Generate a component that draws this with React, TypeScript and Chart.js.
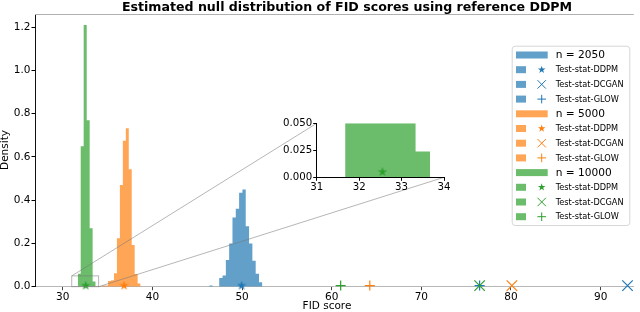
import React, { useEffect, useRef } from "react";
import { Chart, registerables } from "chart.js";
Chart.register(...registerables);

// ---------------- data ----------------
const sampleSizes = [2050, 5000, 10000];
const modelNames = ["DDPM", "DCGAN", "GLOW"];

// histogram bin edges / densities
const edges2050 = [46.34, 46.71, 47.08, 47.45, 47.82, 48.19, 48.56, 48.93, 49.3, 49.67, 50.04, 50.41, 50.78, 51.15, 51.52, 51.89, 52.26];
const density2050 = [0.006, 0, 0, 0.04, 0.052, 0.124, 0.2, 0.32, 0.36, 0.435, 0.45, 0.28, 0.2, 0.12, 0.06, 0.02];

const edges5000 = [34.39, 34.72, 35.05, 35.38, 35.71, 36.04, 36.37, 36.7, 37.03, 37.36, 37.69, 38.02, 38.35, 38.68];
const density5000 = [0.005, 0.005, 0.026, 0.03, 0.062, 0.224, 0.47, 0.675, 0.733, 0.543, 0.193, 0.059, 0.015];

const edges10000 = [31.67, 32.0, 32.33, 32.67, 33.0, 33.33, 33.67];
const density10000 = [0.06, 0.65, 1.21, 0.77, 0.27, 0.024];

// test statistics: DDPM, DCGAN, GLOW
const testStat2050 = [49.95, 93.0, 76.5];
const testStat5000 = [36.84, 80.1, 64.25];
const testStat10000 = [32.55, 76.5, 61.0];
const testStatDensity = 0.005;

const xTicks = [30, 40, 50, 60, 70, 80, 90];
const yTicks = [0, 0.2, 0.4, 0.6, 0.8, 1.0, 1.2];
const xLimits = [26.9, 93.7];
const yLimits = [0, 1.261];

const insetXLimits = [31, 34];
const insetYLimits = [0, 0.05];
const insetXTicks = [31, 32, 33, 34];
const insetYTicks = [0, 0.025, 0.05];

// ---------------- style ----------------
const FONT = '"DejaVu Sans", "Liberation Sans", sans-serif';
const colors = ["#1f77b4", "#ff7f0e", "#2ca02c"];
const fills = ["rgba(31,119,180,0.7)", "rgba(255,127,14,0.7)", "rgba(44,160,44,0.7)"];

// inset axes area in page pixels
const INSET = { left: 316.7, top: 123.3, right: 444, bottom: 177.3 };
const INSET_CANVAS = { left: 270, top: 110, width: 185, height: 90 };

function starPath(ctx: CanvasRenderingContext2D, cx: number, cy: number, r: number) {
  ctx.beginPath();
  for (let i = 0; i < 10; i++) {
    const rad = i % 2 === 0 ? r : r * 0.382;
    const a = -Math.PI / 2 + (i * Math.PI) / 5;
    const px = cx + rad * Math.cos(a);
    const py = cy + rad * Math.sin(a);
    if (i === 0) ctx.moveTo(px, py);
    else ctx.lineTo(px, py);
  }
  ctx.closePath();
}

function makeStar(color: string, size: number) {
  const c = document.createElement("canvas");
  c.width = size;
  c.height = size;
  const ctx = c.getContext("2d")!;
  starPath(ctx, size / 2, size / 2, size / 2);
  ctx.fillStyle = color;
  ctx.fill();
  return c;
}

function histPoints(edges: number[], dens: number[]) {
  return edges.map((e, i) => ({ x: e, y: dens[Math.min(i, dens.length - 1)] }));
}

const groups = [
  { n: sampleSizes[0], edges: edges2050, dens: density2050, stats: testStat2050 },
  { n: sampleSizes[1], edges: edges5000, dens: density5000, stats: testStat5000 },
  { n: sampleSizes[2], edges: edges10000, dens: density10000, stats: testStat10000 },
];

export default function App() {
  const mainRef = useRef<HTMLCanvasElement>(null);
  const insetRef = useRef<HTMLCanvasElement>(null);

  useEffect(() => {
    const stars = colors.map((c) => makeStar(c, 10));

    const histDataset = (k: number) => ({
      type: "line" as const,
      data: histPoints(groups[k].edges, groups[k].dens),
      stepped: true,
      fill: "origin",
      backgroundColor: fills[k],
      borderColor: "rgba(0,0,0,0)",
      borderWidth: 0,
      pointRadius: 0,
      tension: 0,
      order: 10 - k,
    });
    const markerDataset = (k: number, xs: number[], styles: any[], radii: number[]) => ({
      type: "line" as const,
      data: xs.map((x) => ({ x, y: testStatDensity })),
      showLine: false,
      pointStyle: styles,
      pointRadius: radii,
      pointBorderColor: colors[k],
      pointBackgroundColor: colors[k],
      pointBorderWidth: 1.2,
      clip: false,
      order: 3 - k,
    });

    const decor = {
      id: "decor",
      afterDatasetsDraw(chart: any) {
        const { ctx } = chart;
        const x = chart.scales.x;
        const y = chart.scales.y;
        const x0 = x.getPixelForValue(insetXLimits[0]);
        const x1 = x.getPixelForValue(insetXLimits[1]);
        const y0 = y.getPixelForValue(insetYLimits[0]);
        const y1 = y.getPixelForValue(insetYLimits[1]);
        ctx.save();
        ctx.strokeStyle = "rgba(120,120,120,0.6)";
        ctx.lineWidth = 0.9;
        ctx.strokeRect(x0, y1, x1 - x0, y0 - y1);
        ctx.beginPath();
        ctx.moveTo(x0, y1);
        ctx.lineTo(INSET.left, INSET.top);
        ctx.moveTo(x1, y0);
        ctx.lineTo(INSET.right, INSET.bottom);
        ctx.stroke();
        ctx.restore();
      },
      afterDraw(chart: any) {
        const { ctx, chartArea } = chart;
        ctx.save();
        // top spine
        ctx.strokeStyle = "#b0b0b0";
        ctx.lineWidth = 1;
        ctx.beginPath();
        ctx.moveTo(chartArea.left, chartArea.top + 0.5);
        ctx.lineTo(chartArea.right, chartArea.top + 0.5);
        ctx.stroke();

        // title
        ctx.fillStyle = "#000";
        ctx.font = `bold 12.6px ${FONT}`;
        ctx.textAlign = "center";
        ctx.textBaseline = "alphabetic";
        ctx.fillText("Estimated null distribution of FID scores using reference DDPM", 347, 10.5);

        // axis titles
        ctx.font = `10.5px ${FONT}`;
        ctx.textBaseline = "top";
        ctx.fillText("FID score", 327, 301);
        ctx.save();
        ctx.translate(5, 150);
        ctx.rotate(-Math.PI / 2);
        ctx.textBaseline = "middle";
        ctx.fillText("Density", 0, 0);
        ctx.restore();

        // legend
        const L = { left: 511.7, top: 45.7, w: 117.6, h: 179.3 };
        ctx.beginPath();
        (ctx as any).roundRect(L.left + 0.5, L.top + 0.5, L.w, L.h, 3);
        ctx.fillStyle = "rgba(255,255,255,0.8)";
        ctx.fill();
        ctx.strokeStyle = "#d6d6d6";
        ctx.lineWidth = 1;
        ctx.stroke();

        const rowH = 14.7;
        let row = 0;
        ctx.textAlign = "left";
        ctx.textBaseline = "middle";
        groups.forEach((g, k) => {
          const yh = 55 + row * rowH;
          ctx.fillStyle = fills[k];
          ctx.fillRect(516, yh - 3.5, 31.7, 7);
          ctx.fillStyle = "#000";
          ctx.font = `10.6px ${FONT}`;
          ctx.fillText(`n = ${g.n}`, 555.7, yh + 0.5);
          row++;
          modelNames.forEach((m, j) => {
            const yr = 55 + row * rowH;
            ctx.fillStyle = fills[k];
            ctx.fillRect(516, yr - 3.5, 10, 7);
            const mx = 541.7;
            ctx.strokeStyle = colors[k];
            ctx.fillStyle = colors[k];
            ctx.lineWidth = 1;
            if (j === 0) {
              starPath(ctx, mx, yr, 4);
              ctx.fill();
            } else if (j === 1) {
              ctx.beginPath();
              ctx.moveTo(mx - 4.2, yr - 4.2);
              ctx.lineTo(mx + 4.2, yr + 4.2);
              ctx.moveTo(mx - 4.2, yr + 4.2);
              ctx.lineTo(mx + 4.2, yr - 4.2);
              ctx.stroke();
            } else {
              ctx.beginPath();
              ctx.moveTo(mx - 4.3, yr);
              ctx.lineTo(mx + 4.3, yr);
              ctx.moveTo(mx, yr - 4.3);
              ctx.lineTo(mx, yr + 4.3);
              ctx.stroke();
            }
            ctx.fillStyle = "#000";
            ctx.font = `8.2px ${FONT}`;
            ctx.fillText(`Test-stat-${m}`, 555.7, yr + 0.5);
            row++;
          });
        });
        ctx.restore();
      },
    };

    const datasets: any[] = [];
    groups.forEach((g, k) => {
      datasets.push(histDataset(k));
      datasets.push(markerDataset(k, g.stats, [stars[k], "crossRot", "cross"], [5, 7.4, 5]));
    });

    const main = new Chart(mainRef.current!, {
      type: "line",
      data: { datasets },
      options: {
        responsive: false,
        devicePixelRatio: 1,
        animation: false,
        events: [],
        layout: { padding: { top: 14, right: 0, left: 0, bottom: 0 } },
        plugins: { legend: { display: false }, tooltip: { enabled: false }, title: { display: false } },
        scales: {
          x: {
            type: "linear",
            min: xLimits[0],
            max: xLimits[1],
            afterBuildTicks: (s: any) => {
              s.ticks = xTicks.map((v) => ({ value: v }));
            },
            afterFit: (s: any) => {
              s.height = 312 - 286.7;
            },
            ticks: {
              color: "#000",
              font: { family: FONT, size: 10.5 },
              padding: 1,
              maxRotation: 0,
              autoSkip: false,
              callback: (v: any) => String(v),
            },
            grid: { display: true, drawOnChartArea: false, drawTicks: true, tickLength: 3.5, color: "#444" },
            border: { display: true, color: "#b8b8b8", width: 1 },
          },
          y: {
            type: "linear",
            min: yLimits[0],
            max: yLimits[1],
            afterBuildTicks: (s: any) => {
              s.ticks = yTicks.map((v) => ({ value: v }));
            },
            afterFit: (s: any) => {
              s.width = 35;
            },
            ticks: {
              color: "#000",
              font: { family: FONT, size: 10.5 },
              padding: 1,
              autoSkip: false,
              callback: (v: any) => Number(v).toFixed(1),
            },
            grid: { display: true, drawOnChartArea: false, drawTicks: true, tickLength: 3.5, color: "#000" },
            border: { display: true, color: "#111", width: 1 },
          },
        },
      } as any,
      plugins: [decor],
    });

    const inset = new Chart(insetRef.current!, {
      type: "line",
      data: {
        datasets: [
          histDataset(2),
          markerDataset(2, [testStat10000[0]], [makeStar(colors[2], 10)], [5]),
        ],
      },
      options: {
        responsive: false,
        devicePixelRatio: 1,
        animation: false,
        events: [],
        layout: {
          padding: {
            top: INSET.top - INSET_CANVAS.top,
            right: INSET_CANVAS.left + INSET_CANVAS.width - INSET.right,
            left: 0,
            bottom: 0,
          },
        },
        plugins: { legend: { display: false }, tooltip: { enabled: false } },
        scales: {
          x: {
            type: "linear",
            min: insetXLimits[0],
            max: insetXLimits[1],
            afterBuildTicks: (s: any) => {
              s.ticks = insetXTicks.map((v) => ({ value: v }));
            },
            afterFit: (s: any) => {
              s.height = INSET_CANVAS.top + INSET_CANVAS.height - INSET.bottom;
            },
            ticks: {
              color: "#000",
              font: { family: FONT, size: 10.2 },
              padding: 0,
              maxRotation: 0,
              autoSkip: false,
              callback: (v: any) => String(v),
            },
            grid: { display: true, drawOnChartArea: false, drawTicks: true, tickLength: 3.5, color: "#000" },
            border: { display: true, color: "#000", width: 1 },
          },
          y: {
            type: "linear",
            min: insetYLimits[0],
            max: insetYLimits[1],
            afterBuildTicks: (s: any) => {
              s.ticks = insetYTicks.map((v) => ({ value: v }));
            },
            afterFit: (s: any) => {
              s.width = INSET.left - INSET_CANVAS.left;
            },
            ticks: {
              color: "#000",
              font: { family: FONT, size: 10.2 },
              padding: 1,
              autoSkip: false,
              callback: (v: any) => Number(v).toFixed(3),
            },
            grid: { display: true, drawOnChartArea: false, drawTicks: true, tickLength: 3.5, color: "#000" },
            border: { display: true, color: "#000", width: 1 },
          },
        },
      } as any,
    });

    return () => {
      main.destroy();
      inset.destroy();
    };
  }, []);

  return (
    <div style={{ position: "fixed", left: 0, top: 0, width: 640, height: 312, overflow: "hidden", background: "#fff" }}>
      <canvas ref={mainRef} width={640} height={312} style={{ position: "absolute", left: 0, top: 0 }} />
      <canvas
        ref={insetRef}
        width={INSET_CANVAS.width}
        height={INSET_CANVAS.height}
        style={{ position: "absolute", left: INSET_CANVAS.left, top: INSET_CANVAS.top }}
      />
    </div>
  );
}
